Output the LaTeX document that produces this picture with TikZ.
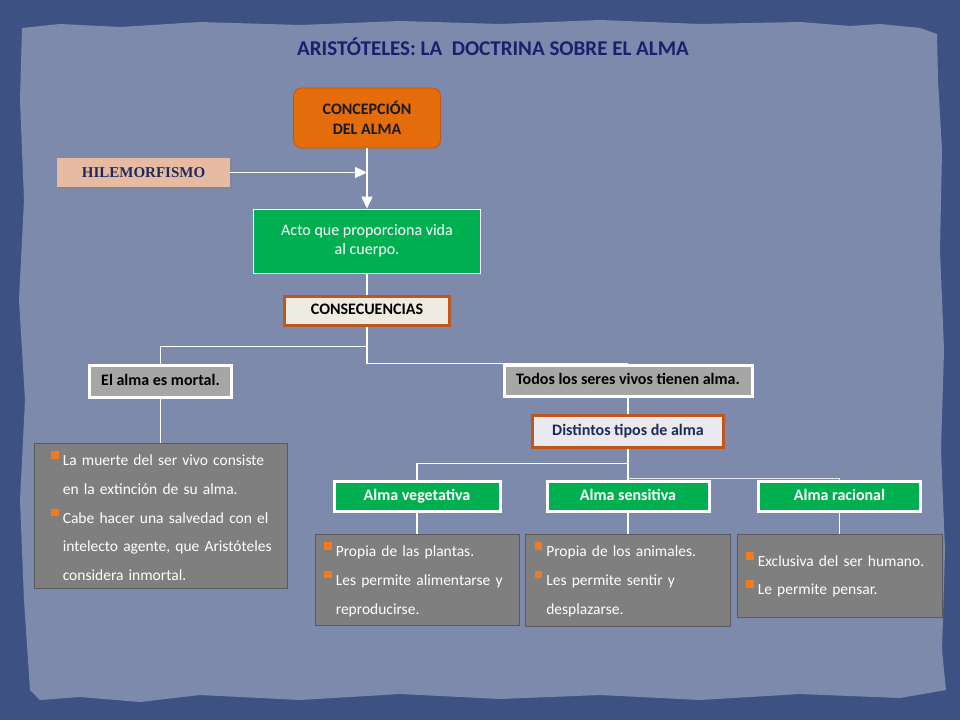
\documentclass[tikz,border=0pt]{standalone}
\usepackage{fontspec}
\setmainfont{Carlito}
\newfontfamily\hilefont{Liberation Serif}
\usetikzlibrary{arrows.meta}
\usetikzlibrary{calc}
\usetikzlibrary{shadows}
\usepackage{xcolor}

\definecolor{bgdark}{HTML}{3D5283}
\definecolor{paper}{HTML}{7D8AAB}
\definecolor{naranja}{HTML}{E46C0A}
\definecolor{naranjaborde}{HTML}{C0561A}
\definecolor{piel}{HTML}{E6BBA2}
\definecolor{verde}{HTML}{00B050}
\definecolor{grisclaro}{HTML}{A6A6A6}
\definecolor{grisoscuro}{HTML}{7F7F7F}
\definecolor{grisborde}{HTML}{5A5A5A}
\definecolor{crema}{HTML}{EEECE1}
\definecolor{perla}{HTML}{E9E9EE}
\definecolor{marino}{HTML}{1B1F6E}
\definecolor{azultexto}{HTML}{1F2A5C}
\definecolor{bul}{HTML}{F47A20}

\newcommand{\bul}{\makebox[0pt][r]{\textcolor{bul}{\rule[7pt]{7.5pt}{7.5pt}}\hspace{4pt}}}

\begin{document}
\begin{tikzpicture}[x=1pt,y=-1pt,
    link/.style={draw=white, line width=1.2pt},
    tip/.style={-{Triangle[length=12pt,width=11pt]}},
    whitebox/.style={draw=white, line width=3pt, fill=grisclaro, font=\bfseries\fontsize{16}{18}\selectfont, text=black, inner sep=0pt, text height=11pt, text depth=3pt},
    almabox/.style={draw=white, line width=3pt, fill=verde, font=\bfseries\fontsize{16}{18}\selectfont, text=white, inner sep=0pt, text height=11pt, text depth=3pt, minimum width=162pt, minimum height=30pt},
    orangebox/.style={draw=naranjaborde, line width=3pt, inner sep=0pt, text height=11pt, text depth=3pt, font=\bfseries\fontsize{16}{18}\selectfont},
    detail/.style={draw=grisborde, line width=0.8pt, fill=grisoscuro},
    items/.style={text=white, font=\fontsize{15.5}{28.7}\selectfont, align=left, text width=250pt, inner sep=0pt, anchor=base west}]

        \useasboundingbox (0,0) rectangle (960,720);
        \fill[bgdark] (0,0) rectangle (960,720);
        \fill[paper] (22,28) -- (60,24) -- (120,27) -- (200,22) -- (300,25) -- (400,21) -- (500,24) -- (600,20) -- (700,24) -- (800,22) -- (850,26) -- (880,24) -- (920,28) -- (937,34)
            -- (938,80) -- (942,150) -- (940,250) -- (944,350) -- (941,450) -- (945,550) -- (942,650) -- (946,690)
            -- (900,698) -- (800,694) -- (700,700) -- (600,695) -- (500,699) -- (400,694) -- (300,700) -- (200,695) -- (140,702) -- (80,697) -- (40,700) -- (30,690)
            -- (24,600) -- (20,500) -- (25,400) -- (19,300) -- (24,200) -- (20,100) -- cycle;

        \node[text=marino, font=\bfseries\fontsize{21}{24}\selectfont] (title) at (493,47) {ARISTÓTELES: LA\ \ DOCTRINA SOBRE EL ALMA};

        \node[draw=naranjaborde, line width=0.8pt, fill=naranja, rounded corners=8pt, minimum width=147pt, minimum height=60pt, align=center, font=\bfseries\fontsize{16}{20}\selectfont, text=black!90] (concep) at (367,118) {CONCEPCIÓN\\DEL ALMA};
        \node[fill=piel, minimum width=173pt, minimum height=29pt, inner sep=0pt, drop shadow={opacity=0.35, shadow xshift=2pt, shadow yshift=-2pt}, font=\hilefont\bfseries\fontsize{15}{17}\selectfont, text=azultexto] (hile) at (143.5,172.5) {HILEMORFISMO};
        \node[draw=white, line width=0.8pt, fill=verde, minimum width=227pt, minimum height=64pt, align=center, font=\fontsize{16}{19}\selectfont, text=white] (acto) at (367,241) {Acto que proporciona vida\\al cuerpo.};
        \node[orangebox, fill=crema, minimum width=165pt, minimum height=29pt, text=black] (consec) at (367,310.5) {CONSECUENCIAS};

        \node[whitebox, minimum width=142pt, minimum height=32pt] (mortal) at (160.5,381) {El alma es mortal.};
        \node[whitebox, minimum width=248pt, minimum height=31pt] (todos) at (628,380.5) {Todos los seres vivos tienen alma.};
        \node[orangebox, fill=perla, minimum width=191pt, minimum height=32pt, text=azultexto] (tipos) at (628,431) {Distintos tipos de alma};

        \node[almabox, minimum width=166pt] (veg) at (417,496) {Alma vegetativa};
        \node[almabox] (sen) at (628,496) {Alma sensitiva};
        \node[almabox] (rac) at (839.5,496) {Alma racional};

        \node[detail, minimum width=253pt, minimum height=145pt] (mortalbox) at (160.5,515.5) {};
        \node[detail, minimum width=204pt, minimum height=91pt] (vegbox) at (417,579.5) {};
        \node[detail, minimum width=205pt, minimum height=92pt] (senbox) at (628,580) {};
        \node[detail, minimum width=205pt, minimum height=83pt] (racbox) at (839.5,575.5) {};

        \node[items] (mortaltxt) at ($(mortalbox.north west)+(29,23)$) {\bul La muerte del ser vivo consiste\\en la extinción de su alma.\\\bul Cabe hacer una salvedad con el\\intelecto agente, que Aristóteles\\considera inmortal.};
        \node[items] (vegtxt) at ($(vegbox.north west)+(21,23)$) {\bul Propia de las plantas.\\\bul Les permite alimentarse y\\reproducirse.};
        \node[items] (sentxt) at ($(senbox.north west)+(21,23)$) {\bul Propia de los animales.\\\bul Les permite sentir y\\desplazarse.};
        \node[items, font=\fontsize{15.5}{28}\selectfont] (ractxt) at ($(racbox.north west)+(21,33)$) {\bul Exclusiva del ser humano.\\\bul Le permite pensar.};

        \draw[link, tip] (hile.east) -- (concep.south |- hile.east);
        \draw[link, tip] (concep.south) -- (acto.north);
        \draw[link] (acto.south) -- (consec.north);
        \draw[link] (consec.south) -- ++(0,20) -| (mortal.north);
        \draw[link] (consec.south) -- ++(0,37) -| (todos.north);
        \draw[link] (mortal.south) -- (mortalbox.north);
        \draw[link] (todos.south) -- (tipos.north);
        \draw[link] (tipos.south) -- ++(0,15) -| (veg.north);
        \draw[link] (tipos.south) -- (sen.north);
        \draw[link, draw=white!80!paper] (tipos.south) ++(0,30) -| (rac.north);
        \draw[link] (veg.south) -- (vegbox.north);
        \draw[link] (sen.south) -- (senbox.north);
        \draw[link] (rac.south) -- (racbox.north);
    \end{tikzpicture}
\end{document}
